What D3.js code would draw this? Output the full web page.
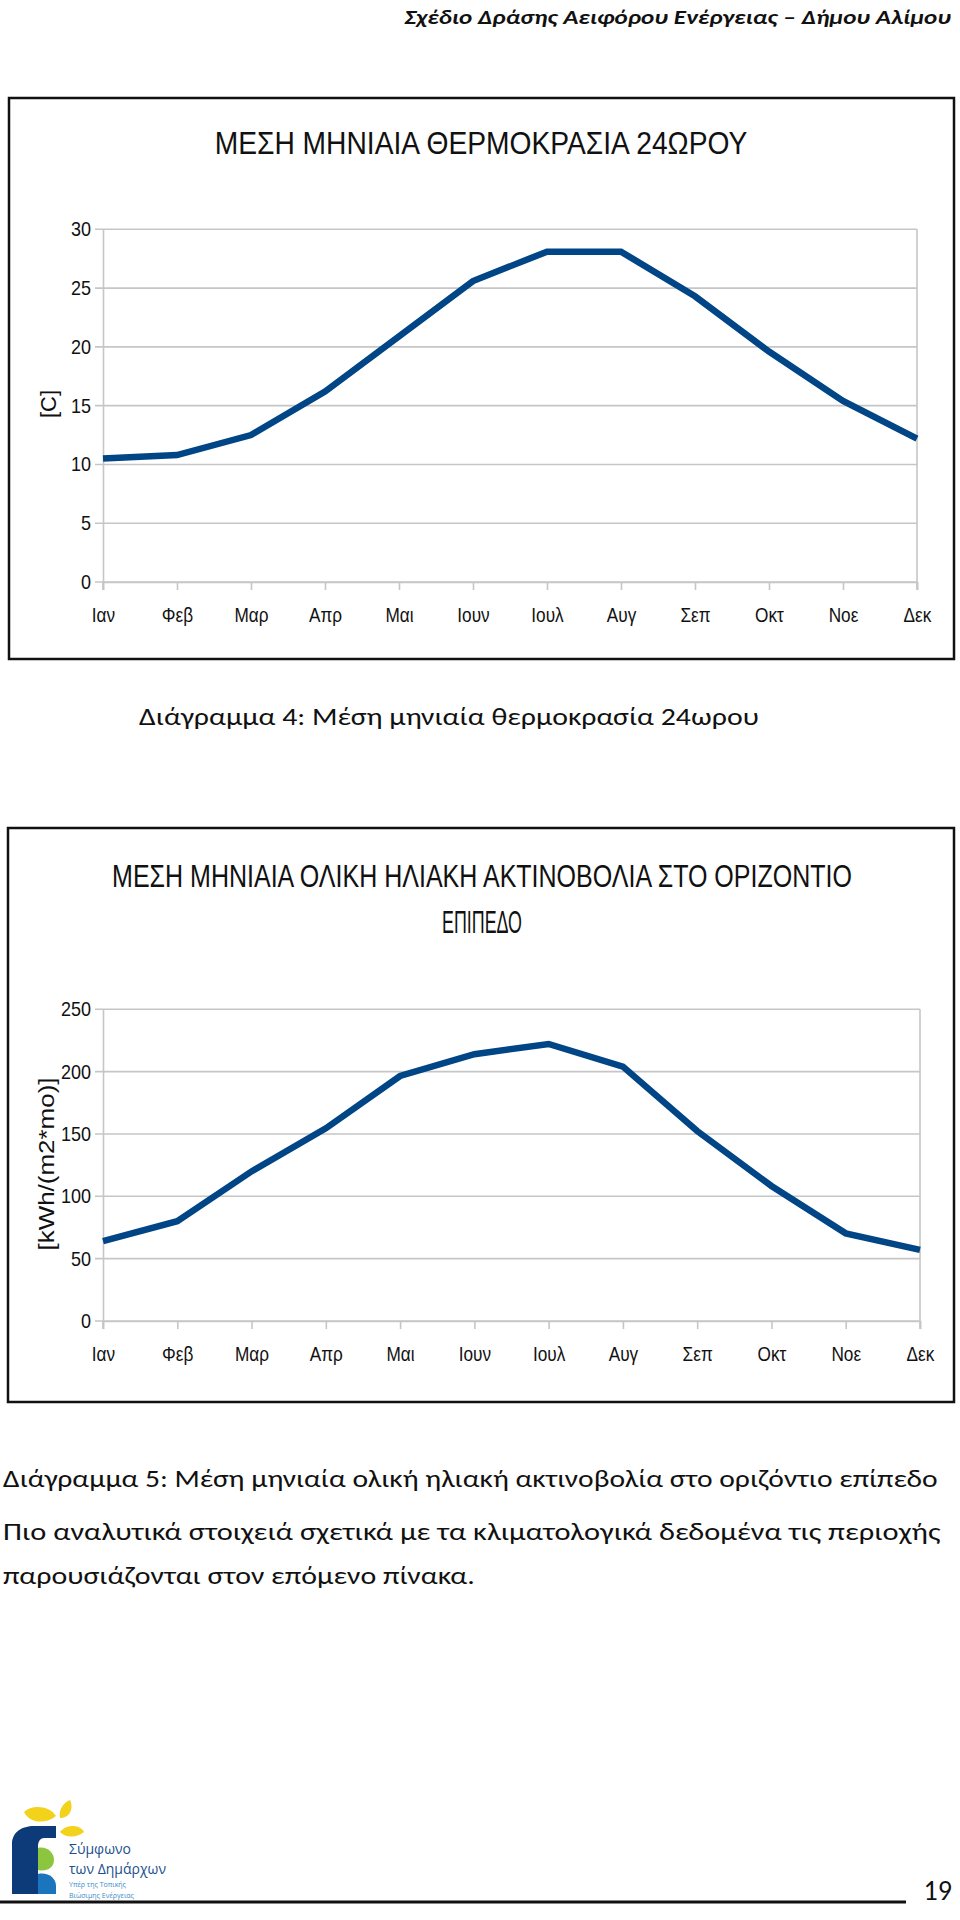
<!DOCTYPE html>
<html><head><meta charset="utf-8">
<script src="https://cdn.jsdelivr.net/npm/d3@7"></script>
<style>
html,body{margin:0;padding:0;background:#fff;}
svg{display:block;}
</style></head>
<body>
<script>
// ---- data ----
const months = ["Ιαν","Φεβ","Μαρ","Απρ","Μαι","Ιουν","Ιουλ","Αυγ","Σεπ","Οκτ","Νοε","Δεκ"];
const temperature = [10.5, 10.8, 12.5, 16.2, 20.9, 25.6, 28.1, 28.1, 24.3, 19.6, 15.4, 12.2];
const irradiance = [64, 80, 120, 154.5, 196.5, 214, 222.2, 204, 152.4, 108.3, 70.3, 57];
const tempTicks = [0, 5, 10, 15, 20, 25, 30];
const radTicks = [0, 50, 100, 150, 200, 250];
const title1 = ["ΜΕΣΗ ΜΗΝΙΑΙΑ ΘΕΡΜΟΚΡΑΣΙΑ 24ΩΡΟΥ"];
const title2 = ["ΜΕΣΗ ΜΗΝΙΑΙΑ ΟΛΙΚΗ ΗΛΙΑΚΗ ΑΚΤΙΝΟΒΟΛΙΑ ΣΤΟ ΟΡΙΖΟΝΤΙΟ", "ΕΠΙΠΕΔΟ"];
const yTitle1 = "[C]";
const yTitle2 = "[kWh/(m2*mo)]";

const W = 960, H = 1920;
const svg = d3.select("body").append("svg").attr("width", W).attr("height", H);
const ARIAL = "'Liberation Sans',Arial,sans-serif";
const BODY = "Carlito,Calibri,'Open Sans','Noto Sans',sans-serif";
const LINE = "#004586";
const GRID = "#c6c6c6";
const NX = 0.82;

// place a text so that its width equals `w`, by a horizontal scale (anchor: "start" | "middle" | "end")
function fitText(parent, str, x, y, w, anchor, attrs) {
  const t = parent.append("text").attr("x", 0).attr("y", 0).attr("text-anchor", anchor);
  Object.entries(attrs).forEach(([k, v]) => t.attr(k, v));
  t.text(str);
  const nat = t.node().getComputedTextLength() || w;
  const k = w / nat;
  t.attr("transform", `translate(${x},${y}) scale(${k},1)`);
  return t;
}

// header
fitText(svg, "Σχέδιο Δράσης Αειφόρου Ενέργειας – Δήμου Αλίμου", 951, 24, 547, "end",
  {"font-family": BODY, "font-size": 21, "font-weight": "bold", "font-style": "italic", "fill": "#111"});

function drawChart(cfg) {
  const g = svg.append("g");
  g.append("rect").attr("x", cfg.box[0]).attr("y", cfg.box[1]).attr("width", cfg.box[2]).attr("height", cfg.box[3])
    .attr("fill", "#fff").attr("stroke", "#111").attr("stroke-width", 2.5);
  const x = d3.scalePoint().domain(months).range(cfg.xr);
  const y = d3.scaleLinear().domain(cfg.ydom).range(cfg.yr);
  cfg.title.forEach((t, i) => {
    fitText(g, t, cfg.titleX[i], cfg.titleY[i], cfg.titleW[i], "middle",
      {"font-family": ARIAL, "font-size": 32, "fill": "#111"});
  });
  g.append("g").selectAll("line").data(cfg.ticks).join("line")
    .attr("x1", cfg.xr[0] - 8).attr("x2", cfg.xr[1])
    .attr("y1", d => y(d)).attr("y2", d => y(d))
    .attr("stroke", GRID).attr("stroke-width", 1.6);
  g.append("line").attr("x1", cfg.xr[1]).attr("x2", cfg.xr[1])
    .attr("y1", y(cfg.ydom[1])).attr("y2", y(0) + 8)
    .attr("stroke", GRID).attr("stroke-width", 1.6);
  const ya = g.append("g").attr("transform", `translate(${cfg.xr[0]},0)`)
    .call(d3.axisLeft(y).tickValues(cfg.ticks).tickSize(0).tickPadding(12));
  ya.select(".domain").attr("stroke", GRID).attr("stroke-width", 1.6);
  ya.selectAll("text").attr("font-family", ARIAL).attr("font-size", 20).attr("fill", "#111")
    .attr("x", -12 / 0.9).attr("transform", "scale(0.9,1)");
  const xa = g.append("g").attr("transform", `translate(0,${y(0)})`)
    .call(d3.axisBottom(x).tickSize(8).tickPadding(17));
  xa.select(".domain").attr("stroke", GRID).attr("stroke-width", 1.6);
  xa.selectAll(".tick line").attr("stroke", GRID).attr("stroke-width", 1.6);
  xa.selectAll("text").attr("font-family", ARIAL).attr("font-size", 21).attr("fill", "#111")
    .attr("transform", `scale(${NX},1)`);
  g.append("line").attr("x1", cfg.xr[0]).attr("x2", cfg.xr[0]).attr("y1", y(0)).attr("y2", y(0) + 8)
    .attr("stroke", GRID).attr("stroke-width", 1.6);
  // y title (rotated; length along the axis)
  const yt = g.append("g").attr("transform", `translate(${cfg.yTitleX},${cfg.yTitleY}) rotate(-90)`);
  fitText(yt, cfg.yTitle, 0, 0, cfg.yTitleLen, "middle", {"font-family": ARIAL, "font-size": 22, "fill": "#111"});
  const line = d3.line().x((d, i) => x(months[i])).y(d => y(d));
  g.append("path").datum(cfg.values).attr("d", line)
    .attr("fill", "none").attr("stroke", LINE).attr("stroke-width", 6.5)
    .attr("stroke-linejoin", "miter").attr("stroke-linecap", "butt");
}

drawChart({
  box: [9, 98, 945, 561],
  xr: [103, 917], ydom: [0, 30], yr: [582, 229.3],
  ticks: tempTicks, values: temperature,
  title: title1, titleX: [481], titleY: [154], titleW: [533],
  yTitle: yTitle1, yTitleX: 56, yTitleY: 404, yTitleLen: 28
});
drawChart({
  box: [8, 828, 946, 574],
  xr: [103, 920], ydom: [0, 250], yr: [1321, 1009.3],
  ticks: radTicks, values: irradiance,
  title: title2, titleX: [482, 482], titleY: [887, 933], titleW: [740, 80],
  yTitle: yTitle2, yTitleX: 54, yTitleY: 1164, yTitleLen: 173
});

const bodyAttrs = {"font-family": BODY, "font-size": 24, "fill": "#111"};
fitText(svg, "Διάγραμμα 4: Μέση μηνιαία θερμοκρασία 24ωρου", 139, 725, 620, "start", bodyAttrs);
fitText(svg, "Διάγραμμα 5: Μέση μηνιαία ολική ηλιακή ακτινοβολία στο οριζόντιο επίπεδο", 3, 1487, 935, "start", bodyAttrs);
fitText(svg, "Πιο αναλυτικά στοιχειά σχετικά με τα κλιματολογικά δεδομένα τις περιοχής", 3, 1540, 938, "start", bodyAttrs);
fitText(svg, "παρουσιάζονται στον επόμενο πίνακα.", 3, 1584, 472, "start", bodyAttrs);

// footer logo (decorative)
const logo = svg.append("g").attr("transform", "translate(10,1804)");
logo.append("path").attr("d", "M14,8 C22,0 40,2 46,12 C36,20 20,20 14,8 Z").attr("fill", "#f2d21b");
logo.append("path").attr("d", "M50,14 C48,6 54,-2 60,-4 C64,4 60,14 50,14 Z").attr("fill", "#f2d21b");
logo.append("path").attr("d", "M50,28 C56,20 70,20 74,28 C66,34 56,34 50,28 Z").attr("fill", "#f2d21b");
logo.append("path").attr("d", "M2,90 L2,40 C2,28 12,22 24,22 L46,22 L46,34 L34,34 C30,34 28,38 28,42 L28,90 Z").attr("fill", "#0d3b7a");
logo.append("path").attr("d", "M28,44 C36,42 44,48 44,56 C44,64 36,68 28,66 Z").attr("fill", "#8cc63f");
logo.append("path").attr("d", "M28,70 C38,68 46,74 46,82 L46,90 L28,90 Z").attr("fill", "#1b75bc");
const lt = (s, yy, sz, c) => logo.append("text").attr("x", 59).attr("y", yy).attr("font-family", "'Open Sans',sans-serif")
  .attr("font-size", sz).attr("fill", c).text(s);
lt("Σύμφωνο", 50, 14, "#1b4f8c");
lt("των Δημάρχων", 70, 14, "#1b4f8c");
lt("Υπέρ της Τοπικής", 83, 7, "#3a8bc8");
lt("Βιώσιμης Ενέργειας", 94, 7, "#3a8bc8");

svg.append("line").attr("x1", 0).attr("x2", 906).attr("y1", 1902).attr("y2", 1902).attr("stroke", "#111").attr("stroke-width", 3);
svg.append("text").attr("x", 952).attr("y", 1900).attr("text-anchor", "end").attr("font-family", BODY)
  .attr("font-size", 28).attr("fill", "#111").text("19");
</script>
</body></html>
